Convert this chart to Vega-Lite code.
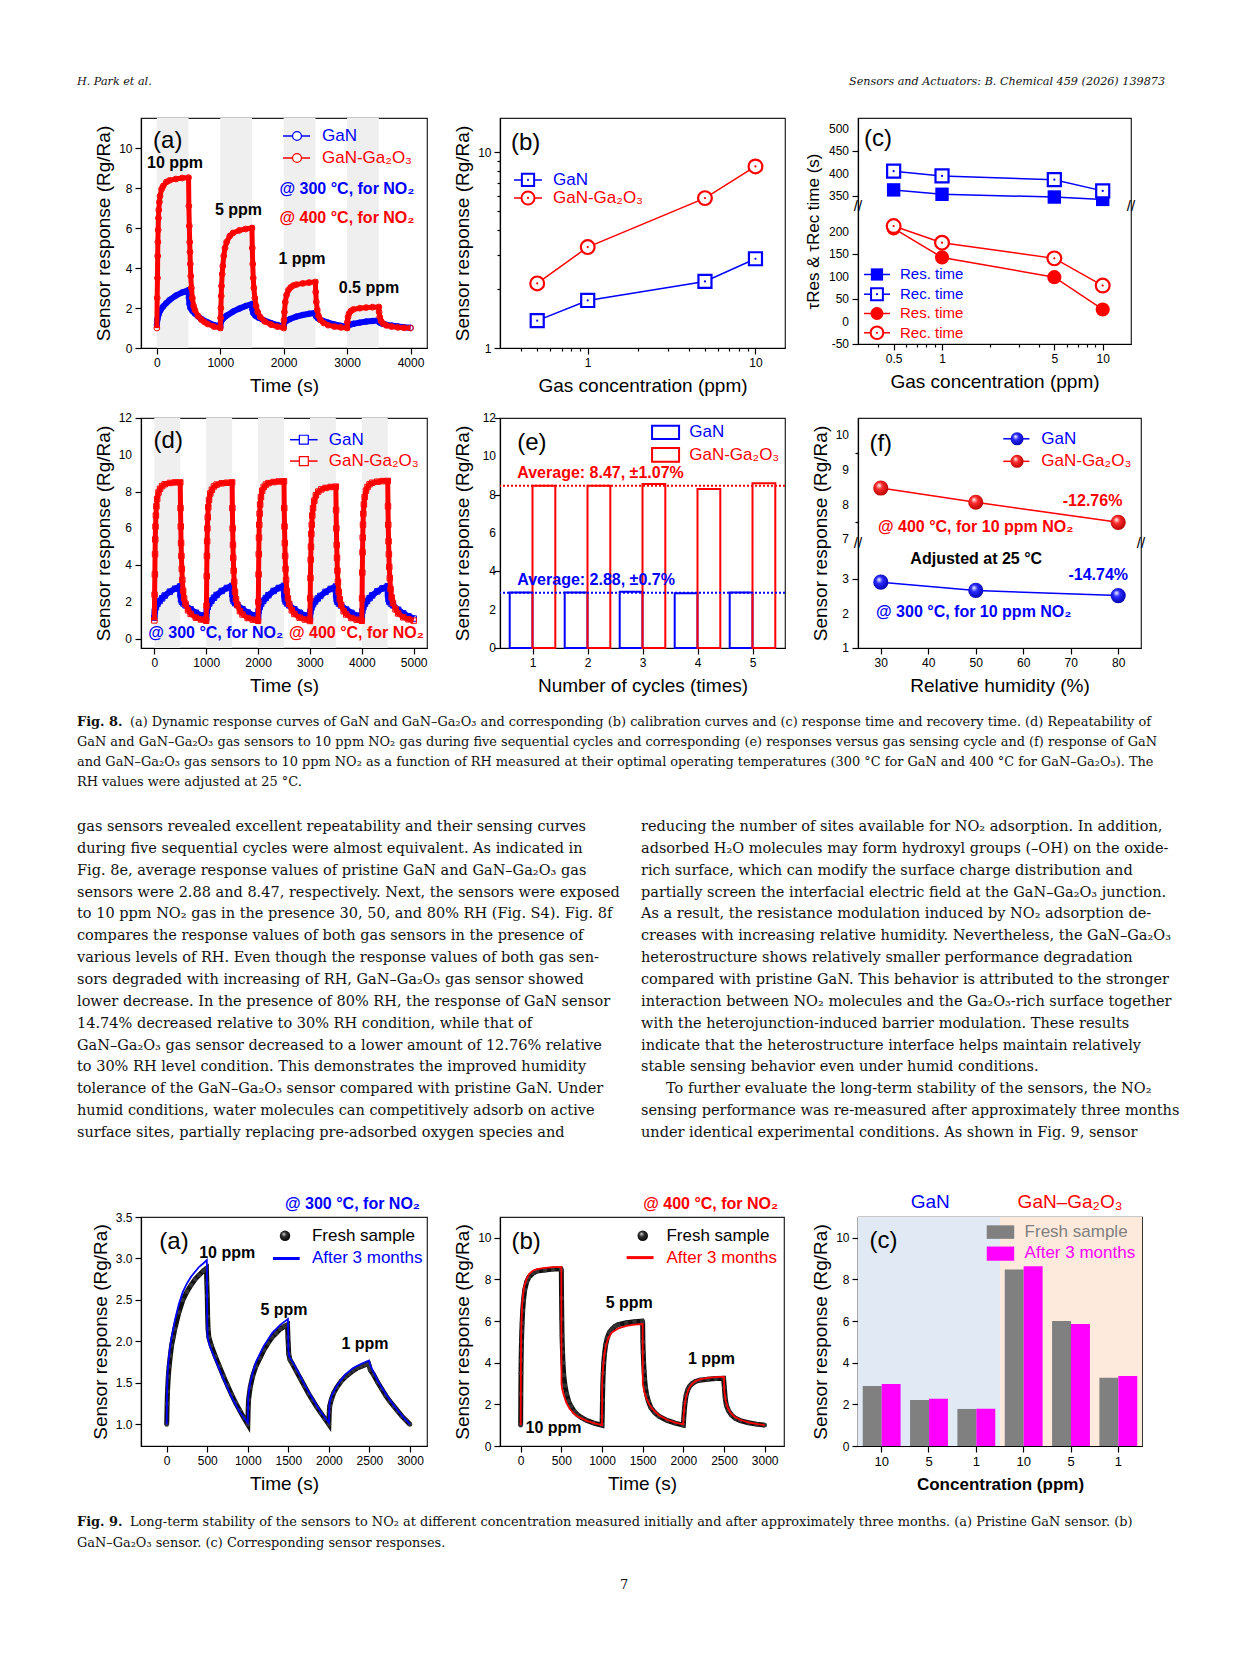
{
"$schema": "https://vega.github.io/schema/vega-lite/v6.json",
"padding": {"left": 77, "top": 37, "right": 0, "bottom": 0},
"config": {
  "font": "Liberation Sans",
  "view": {"stroke": "#222222", "strokeWidth": 1.2},
  "point": {"opacity": 1},
  "axis": {"labelFont": "Liberation Sans", "labelFontSize": 12, "labelColor": "#000000", "labelOverlap": false, "labelBound": false, "titleFont": "Liberation Sans", "titleFontSize": 19, "titleFontWeight": "normal", "titleColor": "#000000", "tickColor": "#000000", "domainColor": "#000000", "tickSize": 6, "grid": false, "labelPadding": 3, "domainWidth": 1.2, "tickWidth": 1.2},
  "axisX": {"titlePadding": 8},
  "axisY": {"titlePadding": 5},
  "text": {"font": "Liberation Sans"}
},
"datasets": {
  "exp8a": [{"on":0,"off":500},{"on":1000,"off":1500},{"on":2000,"off":2500},{"on":3000,"off":3500}],
  "exp8d": [{"on":0,"off":500},{"on":1000,"off":1500},{"on":2000,"off":2500},{"on":3000,"off":3500},{"on":4000,"off":4500}],
  "f8a_gao": [{"time":0,"response":1.0},{"time":5,"response":2.5},{"time":10,"response":3.5},{"time":13,"response":4.6},{"time":16,"response":5.3},{"time":20,"response":5.9},{"time":25,"response":6.5},{"time":30,"response":6.9},{"time":40,"response":7.3},{"time":50,"response":7.6},{"time":75,"response":7.95},{"time":100,"response":8.1},{"time":150,"response":8.3},{"time":200,"response":8.38},{"time":300,"response":8.45},{"time":400,"response":8.5},{"time":500,"response":8.52},{"time":505,"response":7.1},{"time":512,"response":6.1},{"time":518,"response":5.3},{"time":523,"response":4.8},{"time":528,"response":4.2},{"time":535,"response":3.6},{"time":545,"response":3.0},{"time":560,"response":2.5},{"time":580,"response":2.1},{"time":600,"response":1.9},{"time":650,"response":1.6},{"time":700,"response":1.42},{"time":750,"response":1.3},{"time":800,"response":1.2},{"time":900,"response":1.07},{"time":1000,"response":1.0},
    {"time":1005,"response":1.5},{"time":1010,"response":2.0},{"time":1015,"response":2.6},{"time":1020,"response":3.1},{"time":1030,"response":3.7},{"time":1040,"response":4.1},{"time":1055,"response":4.6},{"time":1075,"response":5.0},{"time":1100,"response":5.3},{"time":1150,"response":5.6},{"time":1200,"response":5.75},{"time":1300,"response":5.88},{"time":1400,"response":5.95},{"time":1500,"response":6.0},{"time":1505,"response":5.0},{"time":1512,"response":4.2},{"time":1520,"response":3.5},{"time":1530,"response":3.0},{"time":1545,"response":2.5},{"time":1565,"response":2.1},{"time":1590,"response":1.8},{"time":1630,"response":1.55},{"time":1700,"response":1.33},{"time":1800,"response":1.17},{"time":1900,"response":1.07},{"time":2000,"response":1.0},
    {"time":2005,"response":1.4},{"time":2012,"response":1.8},{"time":2025,"response":2.3},{"time":2045,"response":2.65},{"time":2075,"response":2.9},{"time":2110,"response":3.03},{"time":2150,"response":3.12},{"time":2200,"response":3.17},{"time":2300,"response":3.23},{"time":2400,"response":3.27},{"time":2500,"response":3.3},{"time":2505,"response":2.8},{"time":2515,"response":2.3},{"time":2530,"response":1.9},{"time":2550,"response":1.6},{"time":2580,"response":1.4},{"time":2630,"response":1.25},{"time":2700,"response":1.14},{"time":2800,"response":1.07},{"time":2900,"response":1.03},{"time":3000,"response":1.0},
    {"time":3005,"response":1.3},{"time":3015,"response":1.55},{"time":3030,"response":1.72},{"time":3060,"response":1.85},{"time":3100,"response":1.93},{"time":3200,"response":1.99},{"time":3300,"response":2.02},{"time":3400,"response":2.04},{"time":3500,"response":2.05},{"time":3505,"response":1.8},{"time":3515,"response":1.55},{"time":3535,"response":1.35},{"time":3570,"response":1.22},{"time":3620,"response":1.13},{"time":3700,"response":1.07},{"time":3800,"response":1.03},{"time":3900,"response":1.01},{"time":4000,"response":1.0}],
  "f8a_gan": [{"time":0,"response":1.15},{"time":10,"response":1.45},{"time":25,"response":1.65},{"time":50,"response":1.85},{"time":100,"response":2.08},{"time":150,"response":2.25},{"time":200,"response":2.4},{"time":300,"response":2.62},{"time":400,"response":2.78},{"time":500,"response":2.9},{"time":505,"response":2.5},{"time":515,"response":2.2},{"time":530,"response":2.0},{"time":560,"response":1.85},{"time":600,"response":1.72},{"time":650,"response":1.58},{"time":700,"response":1.46},{"time":800,"response":1.28},{"time":900,"response":1.15},{"time":1000,"response":1.07},
    {"time":1010,"response":1.3},{"time":1030,"response":1.42},{"time":1060,"response":1.52},{"time":1100,"response":1.62},{"time":1200,"response":1.82},{"time":1300,"response":1.97},{"time":1400,"response":2.1},{"time":1500,"response":2.2},{"time":1505,"response":1.95},{"time":1520,"response":1.75},{"time":1550,"response":1.62},{"time":1600,"response":1.52},{"time":1700,"response":1.37},{"time":1800,"response":1.25},{"time":1900,"response":1.15},{"time":2000,"response":1.07},
    {"time":2010,"response":1.25},{"time":2040,"response":1.35},{"time":2100,"response":1.45},{"time":2200,"response":1.57},{"time":2300,"response":1.65},{"time":2400,"response":1.71},{"time":2500,"response":1.76},{"time":2510,"response":1.58},{"time":2540,"response":1.48},{"time":2600,"response":1.38},{"time":2700,"response":1.27},{"time":2800,"response":1.18},{"time":2900,"response":1.11},{"time":3000,"response":1.05},
    {"time":3010,"response":1.12},{"time":3050,"response":1.17},{"time":3100,"response":1.21},{"time":3200,"response":1.27},{"time":3300,"response":1.32},{"time":3400,"response":1.35},{"time":3500,"response":1.38},{"time":3510,"response":1.28},{"time":3550,"response":1.22},{"time":3600,"response":1.18},{"time":3700,"response":1.12},{"time":3800,"response":1.08},{"time":3900,"response":1.04},{"time":4000,"response":1.01}],
  "f8b": [{"sensor":"GaN","conc":0.5,"response":1.38},{"sensor":"GaN","conc":1,"response":1.75},{"sensor":"GaN","conc":5,"response":2.19},{"sensor":"GaN","conc":10,"response":2.86},
    {"sensor":"GaN-Ga2O3","conc":0.5,"response":2.14},{"sensor":"GaN-Ga2O3","conc":1,"response":3.28},{"sensor":"GaN-Ga2O3","conc":5,"response":5.84},{"sensor":"GaN-Ga2O3","conc":10,"response":8.48}],
  "f8c": [{"series":"GaN Res","conc":0.5,"time":363.6},{"series":"GaN Res","conc":1,"time":353.8},{"series":"GaN Res","conc":5,"time":347.7},{"series":"GaN Res","conc":10,"time":342.4},
    {"series":"GaN Rec","conc":0.5,"time":405.3},{"series":"GaN Rec","conc":1,"time":394.7},{"series":"GaN Rec","conc":5,"time":386.4},{"series":"GaN Rec","conc":10,"time":361.4},
    {"series":"GaN-Ga2O3 Res","conc":0.5,"time":207.6},{"series":"GaN-Ga2O3 Res","conc":1,"time":143},{"series":"GaN-Ga2O3 Res","conc":5,"time":99},{"series":"GaN-Ga2O3 Res","conc":10,"time":27},
    {"series":"GaN-Ga2O3 Rec","conc":0.5,"time":212.9},{"series":"GaN-Ga2O3 Rec","conc":1,"time":175.8},{"series":"GaN-Ga2O3 Rec","conc":5,"time":140.9},{"series":"GaN-Ga2O3 Rec","conc":10,"time":80.3}],
  "f8d_gao": [{"time":0,"response":1.0},{"time":5,"response":2.4},{"time":10,"response":3.5},{"time":14,"response":4.6},{"time":18,"response":5.4},{"time":23,"response":6.1},{"time":30,"response":6.7},{"time":40,"response":7.2},{"time":55,"response":7.6},{"time":80,"response":7.95},{"time":110,"response":8.15},{"time":150,"response":8.3},{"time":200,"response":8.4},{"time":300,"response":8.47},{"time":400,"response":8.5},{"time":500,"response":8.5},{"time":505,"response":7.1},{"time":510,"response":6.1},{"time":516,"response":5.2},{"time":522,"response":4.5},{"time":530,"response":3.8},{"time":540,"response":3.2},{"time":555,"response":2.6},{"time":575,"response":2.2},{"time":600,"response":1.9},{"time":650,"response":1.55},{"time":700,"response":1.35},{"time":800,"response":1.15},{"time":900,"response":1.05},{"time":1000,"response":0.98},
    {"time":1005,"response":1.8},{"time":1010,"response":3.4},{"time":1014,"response":4.5},{"time":1018,"response":5.3},{"time":1023,"response":6.0},{"time":1030,"response":6.6},{"time":1040,"response":7.15},{"time":1055,"response":7.55},{"time":1080,"response":7.9},{"time":1110,"response":8.1},{"time":1150,"response":8.28},{"time":1200,"response":8.38},{"time":1300,"response":8.45},{"time":1400,"response":8.48},{"time":1500,"response":8.5},{"time":1505,"response":7.1},{"time":1510,"response":6.0},{"time":1516,"response":5.1},{"time":1522,"response":4.4},{"time":1530,"response":3.7},{"time":1540,"response":3.1},{"time":1555,"response":2.55},{"time":1575,"response":2.15},{"time":1600,"response":1.85},{"time":1650,"response":1.5},{"time":1700,"response":1.32},{"time":1800,"response":1.13},{"time":1900,"response":1.04},{"time":2000,"response":0.98},
    {"time":2005,"response":2.0},{"time":2010,"response":3.5},{"time":2014,"response":4.6},{"time":2018,"response":5.5},{"time":2023,"response":6.2},{"time":2030,"response":6.8},{"time":2040,"response":7.3},{"time":2055,"response":7.7},{"time":2080,"response":8.05},{"time":2110,"response":8.25},{"time":2150,"response":8.38},{"time":2200,"response":8.46},{"time":2300,"response":8.52},{"time":2400,"response":8.55},{"time":2500,"response":8.56},{"time":2505,"response":7.1},{"time":2510,"response":6.1},{"time":2516,"response":5.2},{"time":2522,"response":4.5},{"time":2530,"response":3.8},{"time":2540,"response":3.2},{"time":2555,"response":2.6},{"time":2575,"response":2.2},{"time":2600,"response":1.9},{"time":2650,"response":1.55},{"time":2700,"response":1.35},{"time":2800,"response":1.15},{"time":2900,"response":1.05},{"time":3000,"response":0.97},
    {"time":3005,"response":2.2},{"time":3010,"response":3.3},{"time":3015,"response":4.3},{"time":3020,"response":5.0},{"time":3027,"response":5.7},{"time":3035,"response":6.2},{"time":3045,"response":6.7},{"time":3060,"response":7.1},{"time":3085,"response":7.5},{"time":3115,"response":7.8},{"time":3160,"response":8.0},{"time":3220,"response":8.12},{"time":3300,"response":8.2},{"time":3400,"response":8.25},{"time":3500,"response":8.27},{"time":3505,"response":7.0},{"time":3510,"response":6.0},{"time":3516,"response":5.1},{"time":3522,"response":4.4},{"time":3530,"response":3.7},{"time":3540,"response":3.1},{"time":3555,"response":2.55},{"time":3575,"response":2.15},{"time":3600,"response":1.85},{"time":3650,"response":1.5},{"time":3700,"response":1.32},{"time":3800,"response":1.13},{"time":3900,"response":1.04},{"time":4000,"response":0.98},
    {"time":4005,"response":2.2},{"time":4010,"response":3.6},{"time":4014,"response":4.7},{"time":4018,"response":5.5},{"time":4023,"response":6.2},{"time":4030,"response":6.8},{"time":4040,"response":7.3},{"time":4055,"response":7.7},{"time":4080,"response":8.05},{"time":4110,"response":8.25},{"time":4150,"response":8.4},{"time":4200,"response":8.48},{"time":4300,"response":8.54},{"time":4400,"response":8.57},{"time":4500,"response":8.58},{"time":4505,"response":7.2},{"time":4510,"response":6.2},{"time":4516,"response":5.3},{"time":4522,"response":4.6},{"time":4530,"response":3.9},{"time":4540,"response":3.3},{"time":4555,"response":2.7},{"time":4575,"response":2.25},{"time":4600,"response":1.95},{"time":4650,"response":1.6},{"time":4700,"response":1.38},{"time":4800,"response":1.17},{"time":4900,"response":1.06},{"time":5000,"response":0.99}],
  "f8d_gan": [{"time":0,"response":1.15},{"time":10,"response":1.5},{"time":30,"response":1.72},{"time":60,"response":1.9},{"time":100,"response":2.05},{"time":150,"response":2.2},{"time":200,"response":2.35},{"time":300,"response":2.56},{"time":400,"response":2.72},{"time":500,"response":2.85},{"time":505,"response":2.4},{"time":515,"response":2.15},{"time":530,"response":2.02},{"time":560,"response":1.92},{"time":600,"response":1.82},{"time":700,"response":1.6},{"time":800,"response":1.42},{"time":900,"response":1.27},{"time":1000,"response":1.15},
    {"time":1010,"response":1.5},{"time":1030,"response":1.73},{"time":1060,"response":1.92},{"time":1100,"response":2.07},{"time":1150,"response":2.23},{"time":1200,"response":2.38},{"time":1300,"response":2.6},{"time":1400,"response":2.76},{"time":1500,"response":2.88},{"time":1505,"response":2.42},{"time":1515,"response":2.17},{"time":1530,"response":2.04},{"time":1560,"response":1.93},{"time":1600,"response":1.83},{"time":1700,"response":1.61},{"time":1800,"response":1.43},{"time":1900,"response":1.28},{"time":2000,"response":1.16},
    {"time":2010,"response":1.5},{"time":2030,"response":1.72},{"time":2060,"response":1.9},{"time":2100,"response":2.06},{"time":2150,"response":2.22},{"time":2200,"response":2.37},{"time":2300,"response":2.6},{"time":2400,"response":2.76},{"time":2500,"response":2.88},{"time":2505,"response":2.42},{"time":2515,"response":2.16},{"time":2530,"response":2.03},{"time":2560,"response":1.92},{"time":2600,"response":1.82},{"time":2700,"response":1.6},{"time":2800,"response":1.42},{"time":2900,"response":1.27},{"time":3000,"response":1.15},
    {"time":3010,"response":1.48},{"time":3030,"response":1.7},{"time":3060,"response":1.88},{"time":3100,"response":2.03},{"time":3150,"response":2.19},{"time":3200,"response":2.33},{"time":3300,"response":2.55},{"time":3400,"response":2.71},{"time":3500,"response":2.84},{"time":3505,"response":2.4},{"time":3515,"response":2.14},{"time":3530,"response":2.01},{"time":3560,"response":1.91},{"time":3600,"response":1.81},{"time":3700,"response":1.59},{"time":3800,"response":1.41},{"time":3900,"response":1.26},{"time":4000,"response":1.14},
    {"time":4010,"response":1.5},{"time":4030,"response":1.72},{"time":4060,"response":1.9},{"time":4100,"response":2.05},{"time":4150,"response":2.21},{"time":4200,"response":2.36},{"time":4300,"response":2.58},{"time":4400,"response":2.74},{"time":4500,"response":2.86},{"time":4505,"response":2.41},{"time":4515,"response":2.15},{"time":4530,"response":2.02},{"time":4560,"response":1.92},{"time":4600,"response":1.82},{"time":4700,"response":1.58},{"time":4800,"response":1.38},{"time":4900,"response":1.22},{"time":5000,"response":1.1}],
  "f8e": [{"cycle":1,"sensor":"GaN","response":2.9},{"cycle":2,"sensor":"GaN","response":2.9},{"cycle":3,"sensor":"GaN","response":2.93},{"cycle":4,"sensor":"GaN","response":2.86},{"cycle":5,"sensor":"GaN","response":2.9},
    {"cycle":1,"sensor":"GaN-Ga2O3","response":8.47},{"cycle":2,"sensor":"GaN-Ga2O3","response":8.47},{"cycle":3,"sensor":"GaN-Ga2O3","response":8.56},{"cycle":4,"sensor":"GaN-Ga2O3","response":8.3},{"cycle":5,"sensor":"GaN-Ga2O3","response":8.59}],
  "f8f": [{"sensor":"GaN","rh":30,"response":2.92},{"sensor":"GaN","rh":50,"response":2.68},{"sensor":"GaN","rh":80,"response":2.53},
    {"sensor":"GaN-Ga2O3","rh":30,"response":8.48},{"sensor":"GaN-Ga2O3","rh":50,"response":8.07},{"sensor":"GaN-Ga2O3","rh":80,"response":7.49}],
  "f9a_fresh": [{"time":0,"response":1.0},{"time":5,"response":1.25},{"time":10,"response":1.4},{"time":20,"response":1.58},{"time":30,"response":1.7},{"time":45,"response":1.83},{"time":60,"response":1.95},{"time":80,"response":2.05},{"time":100,"response":2.15},{"time":150,"response":2.35},{"time":200,"response":2.5},{"time":250,"response":2.6},{"time":300,"response":2.68},{"time":350,"response":2.75},{"time":400,"response":2.8},{"time":450,"response":2.85},{"time":490,"response":2.88},{"time":495,"response":2.7},{"time":500,"response":2.55},{"time":505,"response":2.3},{"time":510,"response":2.15},{"time":520,"response":2.05},{"time":550,"response":1.95},{"time":600,"response":1.82},{"time":650,"response":1.7},{"time":700,"response":1.58},{"time":750,"response":1.47},{"time":800,"response":1.36},{"time":850,"response":1.26},{"time":900,"response":1.17},{"time":950,"response":1.08},{"time":1000,"response":1.0},
    {"time":1005,"response":1.2},{"time":1010,"response":1.3},{"time":1030,"response":1.45},{"time":1060,"response":1.58},{"time":1100,"response":1.7},{"time":1150,"response":1.8},{"time":1200,"response":1.9},{"time":1250,"response":1.98},{"time":1300,"response":2.05},{"time":1350,"response":2.1},{"time":1400,"response":2.15},{"time":1450,"response":2.18},{"time":1490,"response":2.2},{"time":1495,"response":2.05},{"time":1500,"response":1.95},{"time":1505,"response":1.85},{"time":1520,"response":1.78},{"time":1550,"response":1.73},{"time":1600,"response":1.64},{"time":1650,"response":1.55},{"time":1700,"response":1.46},{"time":1750,"response":1.37},{"time":1800,"response":1.29},{"time":1850,"response":1.21},{"time":1900,"response":1.14},{"time":1950,"response":1.07},{"time":2000,"response":1.0},
    {"time":2005,"response":1.15},{"time":2010,"response":1.22},{"time":2030,"response":1.3},{"time":2060,"response":1.38},{"time":2100,"response":1.45},{"time":2150,"response":1.52},{"time":2200,"response":1.57},{"time":2250,"response":1.61},{"time":2300,"response":1.65},{"time":2350,"response":1.68},{"time":2400,"response":1.7},{"time":2450,"response":1.72},{"time":2490,"response":1.73},{"time":2500,"response":1.7},{"time":2510,"response":1.66},{"time":2550,"response":1.6},{"time":2600,"response":1.51},{"time":2650,"response":1.43},{"time":2700,"response":1.35},{"time":2750,"response":1.28},{"time":2800,"response":1.22},{"time":2850,"response":1.16},{"time":2900,"response":1.1},{"time":2950,"response":1.05},{"time":3000,"response":1.0}],
  "f9a_after": [{"time":0,"response":1.0},{"time":5,"response":1.45},{"time":10,"response":1.6},{"time":20,"response":1.75},{"time":40,"response":1.92},{"time":60,"response":2.05},{"time":100,"response":2.25},{"time":150,"response":2.45},{"time":200,"response":2.6},{"time":250,"response":2.7},{"time":300,"response":2.78},{"time":350,"response":2.84},{"time":400,"response":2.9},{"time":450,"response":2.94},{"time":495,"response":2.98},{"time":500,"response":2.2},{"time":505,"response":2.05},{"time":520,"response":1.98},{"time":550,"response":1.9},{"time":600,"response":1.78},{"time":700,"response":1.55},{"time":800,"response":1.33},{"time":900,"response":1.15},{"time":1000,"response":1.02},
    {"time":1005,"response":1.3},{"time":1010,"response":1.38},{"time":1030,"response":1.5},{"time":1060,"response":1.62},{"time":1100,"response":1.75},{"time":1200,"response":1.95},{"time":1300,"response":2.1},{"time":1400,"response":2.2},{"time":1495,"response":2.27},{"time":1500,"response":1.9},{"time":1510,"response":1.82},{"time":1550,"response":1.76},{"time":1600,"response":1.67},{"time":1700,"response":1.48},{"time":1800,"response":1.31},{"time":1900,"response":1.15},{"time":2000,"response":1.02},
    {"time":2005,"response":1.2},{"time":2010,"response":1.27},{"time":2030,"response":1.34},{"time":2100,"response":1.47},{"time":2200,"response":1.6},{"time":2300,"response":1.68},{"time":2400,"response":1.73},{"time":2495,"response":1.77},{"time":2505,"response":1.72},{"time":2550,"response":1.63},{"time":2600,"response":1.53},{"time":2700,"response":1.37},{"time":2800,"response":1.23},{"time":2900,"response":1.11},{"time":3000,"response":1.0}],
  "f9b_fresh": [{"time":0,"response":1.0},{"time":2,"response":2.5},{"time":4,"response":3.5},{"time":6,"response":4.1},{"time":8,"response":4.6},{"time":10,"response":5.0},{"time":14,"response":5.5},{"time":18,"response":5.9},{"time":25,"response":6.5},{"time":35,"response":7.0},{"time":50,"response":7.5},{"time":75,"response":7.9},{"time":100,"response":8.1},{"time":150,"response":8.3},{"time":200,"response":8.4},{"time":300,"response":8.45},{"time":400,"response":8.5},{"time":495,"response":8.5},{"time":500,"response":8.45},{"time":503,"response":7.1},{"time":506,"response":6.1},{"time":509,"response":5.3},{"time":512,"response":4.85},{"time":515,"response":4.5},{"time":520,"response":4.0},{"time":530,"response":3.4},{"time":545,"response":2.9},{"time":565,"response":2.5},{"time":590,"response":2.15},{"time":620,"response":1.9},{"time":660,"response":1.65},{"time":700,"response":1.5},{"time":750,"response":1.36},{"time":800,"response":1.25},{"time":900,"response":1.1},{"time":1000,"response":1.0},
    {"time":1003,"response":1.4},{"time":1006,"response":2.2},{"time":1010,"response":2.9},{"time":1015,"response":3.5},{"time":1022,"response":4.0},{"time":1030,"response":4.4},{"time":1045,"response":4.85},{"time":1065,"response":5.2},{"time":1090,"response":5.45},{"time":1120,"response":5.6},{"time":1160,"response":5.75},{"time":1200,"response":5.83},{"time":1300,"response":5.92},{"time":1400,"response":5.97},{"time":1495,"response":6.0},{"time":1500,"response":5.95},{"time":1503,"response":5.0},{"time":1507,"response":4.5},{"time":1512,"response":4.0},{"time":1518,"response":3.6},{"time":1525,"response":3.2},{"time":1535,"response":2.8},{"time":1550,"response":2.45},{"time":1570,"response":2.15},{"time":1600,"response":1.85},{"time":1650,"response":1.6},{"time":1700,"response":1.43},{"time":1800,"response":1.23},{"time":1900,"response":1.1},{"time":2000,"response":1.0},
    {"time":2005,"response":1.3},{"time":2012,"response":1.7},{"time":2022,"response":2.1},{"time":2035,"response":2.45},{"time":2055,"response":2.7},{"time":2080,"response":2.88},{"time":2110,"response":3.0},{"time":2150,"response":3.1},{"time":2200,"response":3.16},{"time":2300,"response":3.21},{"time":2400,"response":3.24},{"time":2495,"response":3.25},{"time":2505,"response":2.8},{"time":2515,"response":2.3},{"time":2530,"response":1.95},{"time":2555,"response":1.7},{"time":2590,"response":1.5},{"time":2640,"response":1.33},{"time":2700,"response":1.22},{"time":2800,"response":1.12},{"time":2900,"response":1.05},{"time":3000,"response":1.0}],
  "f9b_after": [{"time":0,"response":1.0},{"time":3,"response":4.0},{"time":6,"response":5.2},{"time":10,"response":6.0},{"time":20,"response":6.9},{"time":40,"response":7.6},{"time":70,"response":8.0},{"time":100,"response":8.25},{"time":150,"response":8.42},{"time":200,"response":8.5},{"time":300,"response":8.56},{"time":400,"response":8.59},{"time":500,"response":8.6},{"time":502,"response":3.0},{"time":510,"response":2.75},{"time":530,"response":2.45},{"time":560,"response":2.1},{"time":600,"response":1.8},{"time":650,"response":1.57},{"time":700,"response":1.42},{"time":800,"response":1.23},{"time":900,"response":1.1},{"time":1000,"response":1.0},
    {"time":1002,"response":3.0},{"time":1010,"response":3.6},{"time":1025,"response":4.3},{"time":1050,"response":4.85},{"time":1080,"response":5.2},{"time":1120,"response":5.45},{"time":1200,"response":5.65},{"time":1300,"response":5.77},{"time":1400,"response":5.83},{"time":1500,"response":5.86},{"time":1502,"response":3.0},{"time":1520,"response":2.6},{"time":1550,"response":2.25},{"time":1580,"response":2.0},{"time":1620,"response":1.78},{"time":1700,"response":1.48},{"time":1800,"response":1.26},{"time":1900,"response":1.12},{"time":2000,"response":1.04},
    {"time":2003,"response":1.4},{"time":2015,"response":1.9},{"time":2030,"response":2.3},{"time":2060,"response":2.7},{"time":2100,"response":2.95},{"time":2150,"response":3.12},{"time":2200,"response":3.2},{"time":2300,"response":3.27},{"time":2400,"response":3.31},{"time":2500,"response":3.33},{"time":2503,"response":2.7},{"time":2520,"response":2.2},{"time":2545,"response":1.85},{"time":2580,"response":1.6},{"time":2630,"response":1.4},{"time":2700,"response":1.26},{"time":2800,"response":1.14},{"time":2900,"response":1.06},{"time":3000,"response":1.0}],
  "f9c": [{"group":"GaN 10","period":"Fresh sample","response":2.88},{"group":"GaN 10","period":"After 3 months","response":2.98},
    {"group":"GaN 5","period":"Fresh sample","response":2.21},{"group":"GaN 5","period":"After 3 months","response":2.27},
    {"group":"GaN 1","period":"Fresh sample","response":1.78},{"group":"GaN 1","period":"After 3 months","response":1.79},
    {"group":"GaN–Ga₂O₃ 10","period":"Fresh sample","response":8.48},{"group":"GaN–Ga₂O₃ 10","period":"After 3 months","response":8.64},
    {"group":"GaN–Ga₂O₃ 5","period":"Fresh sample","response":6.0},{"group":"GaN–Ga₂O₃ 5","period":"After 3 months","response":5.86},
    {"group":"GaN–Ga₂O₃ 1","period":"Fresh sample","response":3.28},{"group":"GaN–Ga₂O₃ 1","period":"After 3 months","response":3.36}],
  "header": [{"col":"left","line":1,"text":"H. Park et al."},{"col":"right","line":1,"text":"Sensors and Actuators: B. Chemical 459 (2026) 139873"}],
  "textrow": [{"block":"cap","col":"left","line":1,"part":"label","text":"Fig. 8."},
    {"block":"cap","col":"left","line":1,"part":"body","text":"(a) Dynamic response curves of GaN and GaN–Ga₂O₃ and corresponding (b) calibration curves and (c) response time and recovery time. (d) Repeatability of"},
    {"block":"cap","col":"left","line":2,"part":"body","text":"GaN and GaN–Ga₂O₃ gas sensors to 10 ppm NO₂ gas during five sequential cycles and corresponding (e) responses versus gas sensing cycle and (f) response of GaN"},
    {"block":"cap","col":"left","line":3,"part":"body","text":"and GaN–Ga₂O₃ gas sensors to 10 ppm NO₂ as a function of RH measured at their optimal operating temperatures (300 °C for GaN and 400 °C for GaN–Ga₂O₃). The"},
    {"block":"cap","col":"left","line":4,"part":"body","text":"RH values were adjusted at 25 °C."},
    {"block":"body","col":"left","line":1,"part":"body","text":"gas sensors revealed excellent repeatability and their sensing curves"},
    {"block":"body","col":"left","line":2,"part":"body","text":"during five sequential cycles were almost equivalent. As indicated in"},
    {"block":"body","col":"left","line":3,"part":"body","text":"Fig. 8e, average response values of pristine GaN and GaN–Ga₂O₃ gas"},
    {"block":"body","col":"left","line":4,"part":"body","text":"sensors were 2.88 and 8.47, respectively. Next, the sensors were exposed"},
    {"block":"body","col":"left","line":5,"part":"body","text":"to 10 ppm NO₂ gas in the presence 30, 50, and 80% RH (Fig. S4). Fig. 8f"},
    {"block":"body","col":"left","line":6,"part":"body","text":"compares the response values of both gas sensors in the presence of"},
    {"block":"body","col":"left","line":7,"part":"body","text":"various levels of RH. Even though the response values of both gas sen-"},
    {"block":"body","col":"left","line":8,"part":"body","text":"sors degraded with increasing of RH, GaN–Ga₂O₃ gas sensor showed"},
    {"block":"body","col":"left","line":9,"part":"body","text":"lower decrease. In the presence of 80% RH, the response of GaN sensor"},
    {"block":"body","col":"left","line":10,"part":"body","text":"14.74% decreased relative to 30% RH condition, while that of"},
    {"block":"body","col":"left","line":11,"part":"body","text":"GaN–Ga₂O₃ gas sensor decreased to a lower amount of 12.76% relative"},
    {"block":"body","col":"left","line":12,"part":"body","text":"to 30% RH level condition. This demonstrates the improved humidity"},
    {"block":"body","col":"left","line":13,"part":"body","text":"tolerance of the GaN–Ga₂O₃ sensor compared with pristine GaN. Under"},
    {"block":"body","col":"left","line":14,"part":"body","text":"humid conditions, water molecules can competitively adsorb on active"},
    {"block":"body","col":"left","line":15,"part":"body","text":"surface sites, partially replacing pre-adsorbed oxygen species and"},
    {"block":"body","col":"right","line":1,"part":"body","text":"reducing the number of sites available for NO₂ adsorption. In addition,"},
    {"block":"body","col":"right","line":2,"part":"body","text":"adsorbed H₂O molecules may form hydroxyl groups (–OH) on the oxide-"},
    {"block":"body","col":"right","line":3,"part":"body","text":"rich surface, which can modify the surface charge distribution and"},
    {"block":"body","col":"right","line":4,"part":"body","text":"partially screen the interfacial electric field at the GaN–Ga₂O₃ junction."},
    {"block":"body","col":"right","line":5,"part":"body","text":"As a result, the resistance modulation induced by NO₂ adsorption de-"},
    {"block":"body","col":"right","line":6,"part":"body","text":"creases with increasing relative humidity. Nevertheless, the GaN–Ga₂O₃"},
    {"block":"body","col":"right","line":7,"part":"body","text":"heterostructure shows relatively smaller performance degradation"},
    {"block":"body","col":"right","line":8,"part":"body","text":"compared with pristine GaN. This behavior is attributed to the stronger"},
    {"block":"body","col":"right","line":9,"part":"body","text":"interaction between NO₂ molecules and the Ga₂O₃-rich surface together"},
    {"block":"body","col":"right","line":10,"part":"body","text":"with the heterojunction-induced barrier modulation. These results"},
    {"block":"body","col":"right","line":11,"part":"body","text":"indicate that the heterostructure interface helps maintain relatively"},
    {"block":"body","col":"right","line":12,"part":"body","text":"stable sensing behavior even under humid conditions."},
    {"block":"body","col":"right","line":13,"part":"indent","text":"To further evaluate the long-term stability of the sensors, the NO₂"},
    {"block":"body","col":"right","line":14,"part":"body","text":"sensing performance was re-measured after approximately three months"},
    {"block":"body","col":"right","line":15,"part":"body","text":"under identical experimental conditions. As shown in Fig. 9, sensor"}],
  "cap9": [{"col":"left","line":1,"part":"label","text":"Fig. 9."},
    {"col":"left","line":1,"part":"body","text":"Long-term stability of the sensors to NO₂ at different concentration measured initially and after approximately three months. (a) Pristine GaN sensor. (b)"},
    {"col":"left","line":2,"part":"body","text":"GaN–Ga₂O₃ sensor. (c) Corresponding sensor responses."},
    {"col":"center","line":4,"part":"page","text":"7"}]
},
"concat": [
  {
    "width": 10, "height": 10, "view": {"stroke": null},
    "data": {"name": "header"},
    "encoding": {
      "x": {"field": "col", "type": "nominal", "scale": {"type": "point", "domain": ["left", "right"], "range": [-64, 1024], "padding": 0}, "axis": null},
      "y": {"field": "line", "type": "quantitative", "scale": {"domain": [1, 2], "range": [44, 64], "nice": false, "zero": false}, "axis": null},
      "text": {"field": "text"}
    },
    "layer": [
      {"transform": [{"filter": "datum.col == 'left'"}], "mark": {"type": "text", "align": "left", "baseline": "middle", "font": "DejaVu Serif", "fontStyle": "italic", "fontSize": 11.2, "color": "#111111"}},
      {"transform": [{"filter": "datum.col == 'right'"}], "mark": {"type": "text", "align": "right", "baseline": "middle", "font": "DejaVu Serif", "fontStyle": "italic", "fontSize": 11.2, "color": "#111111"}}
    ]
  },
  {"width": 10, "height": 10, "view": {"stroke": null}, "data": {"values": [{}]}, "mark": {"type": "text", "text": " "}},
  {"width": 10, "height": 10, "view": {"stroke": null}, "data": {"values": [{}]}, "mark": {"type": "text", "text": " "}},
  {
    "width": 286, "height": 230, "data": {"values": [{}]},
    "layer": [
      {"data": {"name": "exp8a"}, "mark": {"type": "rect", "color": "#efefef"},
       "encoding": {"x": {"field": "on", "type": "quantitative", "scale": {"domain": [-250, 4260], "nice": false, "zero": false}, "axis": {"values": [0, 500, 1000, 1500, 2000, 2500, 3000, 3500, 4000], "format": "d", "labelOverlap": false, "labelExpr": "datum.value % 1000 == 0 ? datum.label : ''", "tickDash": {"condition": {"test": "datum.value % 1000 != 0", "value": [3, 30]}, "value": []}, "title": "Time (s)"}}, "x2": {"field": "off"}}},
      {"data": {"name": "f8a_gan"}, "mark": {"type": "line", "color": "#0000ff", "strokeWidth": 6},
       "encoding": {"x": {"field": "time", "type": "quantitative"}, "y": {"field": "response", "type": "quantitative", "scale": {"domain": [0, 11.5], "nice": false, "zero": false}, "axis": {"values": [0, 1, 2, 3, 4, 5, 6, 7, 8, 9, 10, 11], "labelOverlap": false, "labelExpr": "datum.value % 2 == 0 ? datum.label : ''", "tickDash": {"condition": {"test": "datum.value % 2 != 0", "value": [3, 30]}, "value": []}, "title": "Sensor response (Rg/Ra)"}}}},
      {"data": {"name": "f8a_gan"}, "mark": {"type": "point", "shape": "circle", "filled": false, "color": "#0000ff", "size": 30, "strokeWidth": 1},
       "encoding": {"x": {"field": "time", "type": "quantitative"}, "y": {"field": "response", "type": "quantitative"}}},
      {"data": {"name": "f8a_gao"}, "mark": {"type": "line", "color": "#ff0000", "strokeWidth": 5},
       "encoding": {"x": {"field": "time", "type": "quantitative"}, "y": {"field": "response", "type": "quantitative"}}},
      {"data": {"name": "f8a_gao"}, "mark": {"type": "point", "shape": "circle", "filled": false, "color": "#ff0000", "size": 34, "strokeWidth": 1},
       "encoding": {"x": {"field": "time", "type": "quantitative"}, "y": {"field": "response", "type": "quantitative"}}},
      {"mark": {"type": "text", "text": "(a)", "fontSize": 24, "align": "left", "baseline": "middle"}, "encoding": {"x": {"datum": -60}, "y": {"datum": 10.35}}},
      {"mark": {"type": "text", "text": "10 ppm", "fontSize": 16, "fontWeight": "bold", "align": "center", "baseline": "middle"}, "encoding": {"x": {"datum": 286}, "y": {"datum": 9.25}}},
      {"mark": {"type": "text", "text": "5 ppm", "fontSize": 16, "fontWeight": "bold", "align": "center", "baseline": "middle"}, "encoding": {"x": {"datum": 1288}, "y": {"datum": 6.9}}},
      {"mark": {"type": "text", "text": "1 ppm", "fontSize": 16, "fontWeight": "bold", "align": "center", "baseline": "middle"}, "encoding": {"x": {"datum": 2289}, "y": {"datum": 4.45}}},
      {"mark": {"type": "text", "text": "0.5 ppm", "fontSize": 16, "fontWeight": "bold", "align": "center", "baseline": "middle"}, "encoding": {"x": {"datum": 3345}, "y": {"datum": 3.0}}},
      {"mark": {"type": "rule", "color": "#0000ff", "strokeWidth": 1.5}, "encoding": {"x": {"datum": 1989}, "x2": {"datum": 2416}, "y": {"datum": 10.6}}},
      {"mark": {"type": "point", "shape": "circle", "filled": true, "fill": "#ffffff", "stroke": "#0000ff", "size": 80, "strokeWidth": 1.2}, "encoding": {"x": {"datum": 2210}, "y": {"datum": 10.6}}},
      {"mark": {"type": "text", "text": "GaN", "fontSize": 17, "color": "#0000ff", "align": "left", "baseline": "middle"}, "encoding": {"x": {"datum": 2604}, "y": {"datum": 10.6}}},
      {"mark": {"type": "rule", "color": "#ff0000", "strokeWidth": 1.5}, "encoding": {"x": {"datum": 1989}, "x2": {"datum": 2416}, "y": {"datum": 9.5}}},
      {"mark": {"type": "point", "shape": "circle", "filled": true, "fill": "#ffffff", "stroke": "#ff0000", "size": 80, "strokeWidth": 1.2}, "encoding": {"x": {"datum": 2210}, "y": {"datum": 9.5}}},
      {"mark": {"type": "text", "text": "GaN-Ga₂O₃", "fontSize": 17, "color": "#ff0000", "align": "left", "baseline": "middle"}, "encoding": {"x": {"datum": 2604}, "y": {"datum": 9.5}}},
      {"mark": {"type": "text", "text": "@ 300 °C, for NO₂", "fontSize": 16, "fontWeight": "bold", "color": "#0000ff", "align": "left", "baseline": "middle"}, "encoding": {"x": {"datum": 1934}, "y": {"datum": 7.95}}},
      {"mark": {"type": "text", "text": "@ 400 °C, for NO₂", "fontSize": 16, "fontWeight": "bold", "color": "#ff0000", "align": "left", "baseline": "middle"}, "encoding": {"x": {"datum": 1934}, "y": {"datum": 6.5}}}
    ]
  },
  {
    "width": 285, "height": 230, "data": {"values": [{}]},
    "layer": [
      {"data": {"name": "f8b"}, "transform": [{"filter": "datum.sensor == 'GaN'"}], "mark": {"type": "line", "color": "#0000ff", "strokeWidth": 1.5},
       "encoding": {"x": {"field": "conc", "type": "quantitative", "scale": {"type": "log", "domain": [0.3, 15], "nice": false}, "axis": {"values": [0.4, 0.5, 0.6, 0.7, 0.8, 0.9, 1, 2, 3, 4, 5, 6, 7, 8, 9, 10], "format": "~g", "labelOverlap": false, "labelExpr": "datum.value == 1 || datum.value == 10 ? datum.label : ''", "tickDash": {"condition": {"test": "datum.value != 1 && datum.value != 10", "value": [3, 30]}, "value": []}, "title": "Gas concentration (ppm)"}},
                    "y": {"field": "response", "type": "quantitative", "scale": {"type": "log", "domain": [1, 15], "nice": false}, "axis": {"values": [1, 2, 3, 4, 5, 6, 7, 8, 9, 10], "format": "~g", "labelOverlap": false, "labelExpr": "datum.value == 1 || datum.value == 10 ? datum.label : ''", "tickDash": {"condition": {"test": "datum.value != 1 && datum.value != 10", "value": [3, 30]}, "value": []}, "title": "Sensor response (Rg/Ra)"}}}},
      {"data": {"name": "f8b"}, "transform": [{"filter": "datum.sensor == 'GaN-Ga2O3'"}], "mark": {"type": "line", "color": "#ff0000", "strokeWidth": 1.5},
       "encoding": {"x": {"field": "conc", "type": "quantitative"}, "y": {"field": "response", "type": "quantitative"}}},
      {"data": {"name": "f8b"}, "transform": [{"filter": "datum.sensor == 'GaN'"}], "mark": {"type": "point", "shape": "square", "filled": true, "fill": "#ffffff", "stroke": "#0000ff", "size": 170, "strokeWidth": 2.2},
       "encoding": {"x": {"field": "conc", "type": "quantitative"}, "y": {"field": "response", "type": "quantitative"}}},
      {"data": {"name": "f8b"}, "transform": [{"filter": "datum.sensor == 'GaN-Ga2O3'"}], "mark": {"type": "point", "shape": "circle", "filled": true, "fill": "#ffffff", "stroke": "#ff0000", "size": 190, "strokeWidth": 2.2},
       "encoding": {"x": {"field": "conc", "type": "quantitative"}, "y": {"field": "response", "type": "quantitative"}}},
      {"data": {"name": "f8b"}, "transform": [{"filter": "datum.sensor == 'GaN'"}], "mark": {"type": "point", "shape": "circle", "filled": true, "color": "#0000ff", "size": 5},
       "encoding": {"x": {"field": "conc", "type": "quantitative"}, "y": {"field": "response", "type": "quantitative"}}},
      {"data": {"name": "f8b"}, "transform": [{"filter": "datum.sensor == 'GaN-Ga2O3'"}], "mark": {"type": "point", "shape": "circle", "filled": true, "color": "#ff0000", "size": 5},
       "encoding": {"x": {"field": "conc", "type": "quantitative"}, "y": {"field": "response", "type": "quantitative"}}},
      {"mark": {"type": "text", "text": "(b)", "fontSize": 24, "align": "left", "baseline": "middle"}, "encoding": {"x": {"datum": 0.349}, "y": {"datum": 11.2}}},
      {"mark": {"type": "rule", "color": "#0000ff", "strokeWidth": 1.5}, "encoding": {"x": {"datum": 0.3636}, "x2": {"datum": 0.534}, "y": {"datum": 7.23}}},
      {"mark": {"type": "point", "shape": "square", "filled": true, "fill": "#ffffff", "stroke": "#0000ff", "size": 150, "strokeWidth": 2}, "encoding": {"x": {"datum": 0.4406}, "y": {"datum": 7.23}}},
      {"mark": {"type": "point", "shape": "circle", "filled": true, "color": "#0000ff", "size": 5}, "encoding": {"x": {"datum": 0.4406}, "y": {"datum": 7.23}}},
      {"mark": {"type": "text", "text": "GaN", "fontSize": 17, "color": "#0000ff", "align": "left", "baseline": "middle"}, "encoding": {"x": {"datum": 0.621}, "y": {"datum": 7.23}}},
      {"mark": {"type": "rule", "color": "#ff0000", "strokeWidth": 1.5}, "encoding": {"x": {"datum": 0.3636}, "x2": {"datum": 0.534}, "y": {"datum": 5.85}}},
      {"mark": {"type": "point", "shape": "circle", "filled": true, "fill": "#ffffff", "stroke": "#ff0000", "size": 170, "strokeWidth": 2}, "encoding": {"x": {"datum": 0.4406}, "y": {"datum": 5.85}}},
      {"mark": {"type": "point", "shape": "circle", "filled": true, "color": "#ff0000", "size": 5}, "encoding": {"x": {"datum": 0.4406}, "y": {"datum": 5.85}}},
      {"mark": {"type": "text", "text": "GaN-Ga₂O₃", "fontSize": 17, "color": "#ff0000", "align": "left", "baseline": "middle"}, "encoding": {"x": {"datum": 0.621}, "y": {"datum": 5.85}}}
    ]
  },
  {
    "width": 273, "height": 226, "data": {"values": [{}]},
    "layer": [
      {"data": {"name": "f8c"}, "transform": [{"filter": "indexof(datum.series, 'GaN-Ga2O3') < 0"}], "mark": {"type": "line", "strokeWidth": 1.5, "color": "#0000ff"},
       "encoding": {"x": {"field": "conc", "type": "quantitative", "scale": {"type": "log", "domain": [0.3, 15], "nice": false}, "axis": {"values": [0.4, 0.5, 0.6, 0.7, 0.8, 0.9, 1, 2, 3, 4, 5, 6, 7, 8, 9, 10], "format": "~g", "labelOverlap": false, "labelExpr": "datum.value == 0.5 || datum.value == 1 || datum.value == 5 || datum.value == 10 ? datum.label : ''", "tickDash": {"condition": {"test": "datum.value != 0.5 && datum.value != 1 && datum.value != 5 && datum.value != 10", "value": [3, 30]}, "value": []}, "title": "Gas concentration (ppm)"}},
                    "y": {"field": "time", "type": "quantitative", "scale": {"domain": [-50, 257, 327, 524], "range": [226, 88.3, 88.3, 0], "nice": false, "zero": false}, "axis": {"values": [-50, -25, 0, 25, 50, 75, 100, 125, 150, 175, 200, 225, 350, 375, 400, 425, 450, 475, 500], "labels": false, "tickDash": {"condition": {"test": "datum.value % 50 != 0", "value": [3, 30]}, "value": []}, "title": "τRes & τRec time (s)", "titleFontSize": 17, "titlePadding": 29}},
                    "detail": {"field": "series", "type": "nominal"}}},
      {"data": {"name": "f8c"}, "transform": [{"filter": "indexof(datum.series, 'GaN-Ga2O3') >= 0"}], "mark": {"type": "line", "strokeWidth": 1.5, "color": "#ff0000"},
       "encoding": {"x": {"field": "conc", "type": "quantitative"}, "y": {"field": "time", "type": "quantitative"}, "detail": {"field": "series", "type": "nominal"}}},
      {"data": {"name": "f8c"}, "transform": [{"filter": "datum.series == 'GaN Res'"}], "mark": {"type": "point", "shape": "square", "filled": true, "color": "#0000ff", "size": 180},
       "encoding": {"x": {"field": "conc", "type": "quantitative"}, "y": {"field": "time", "type": "quantitative"}}},
      {"data": {"name": "f8c"}, "transform": [{"filter": "datum.series == 'GaN Rec'"}], "mark": {"type": "point", "shape": "square", "filled": true, "fill": "#ffffff", "stroke": "#0000ff", "size": 170, "strokeWidth": 2.2},
       "encoding": {"x": {"field": "conc", "type": "quantitative"}, "y": {"field": "time", "type": "quantitative"}}},
      {"data": {"name": "f8c"}, "transform": [{"filter": "datum.series == 'GaN-Ga2O3 Res'"}], "mark": {"type": "point", "shape": "circle", "filled": true, "color": "#ff0000", "size": 200},
       "encoding": {"x": {"field": "conc", "type": "quantitative"}, "y": {"field": "time", "type": "quantitative"}}},
      {"data": {"name": "f8c"}, "transform": [{"filter": "datum.series == 'GaN-Ga2O3 Rec'"}], "mark": {"type": "point", "shape": "circle", "filled": true, "fill": "#ffffff", "stroke": "#ff0000", "size": 190, "strokeWidth": 2.2},
       "encoding": {"x": {"field": "conc", "type": "quantitative"}, "y": {"field": "time", "type": "quantitative"}}},
      {"data": {"name": "f8c"}, "transform": [{"filter": "datum.series == 'GaN Rec'"}], "mark": {"type": "point", "shape": "circle", "filled": true, "color": "#0000ff", "size": 5},
       "encoding": {"x": {"field": "conc", "type": "quantitative"}, "y": {"field": "time", "type": "quantitative"}}},
      {"data": {"name": "f8c"}, "transform": [{"filter": "datum.series == 'GaN-Ga2O3 Rec'"}], "mark": {"type": "point", "shape": "circle", "filled": true, "color": "#ff0000", "size": 5},
       "encoding": {"x": {"field": "conc", "type": "quantitative"}, "y": {"field": "time", "type": "quantitative"}}},
      {"mark": {"type": "text", "text": "-50", "fontSize": 12, "align": "right", "baseline": "middle", "dx": -9}, "encoding": {"x": {"datum": 0.3}, "y": {"datum": -50}}},
      {"mark": {"type": "text", "text": "0", "fontSize": 12, "align": "right", "baseline": "middle", "dx": -9}, "encoding": {"x": {"datum": 0.3}, "y": {"datum": 0}}},
      {"mark": {"type": "text", "text": "50", "fontSize": 12, "align": "right", "baseline": "middle", "dx": -9}, "encoding": {"x": {"datum": 0.3}, "y": {"datum": 50}}},
      {"mark": {"type": "text", "text": "100", "fontSize": 12, "align": "right", "baseline": "middle", "dx": -9}, "encoding": {"x": {"datum": 0.3}, "y": {"datum": 100}}},
      {"mark": {"type": "text", "text": "150", "fontSize": 12, "align": "right", "baseline": "middle", "dx": -9}, "encoding": {"x": {"datum": 0.3}, "y": {"datum": 150}}},
      {"mark": {"type": "text", "text": "200", "fontSize": 12, "align": "right", "baseline": "middle", "dx": -9}, "encoding": {"x": {"datum": 0.3}, "y": {"datum": 200}}},
      {"mark": {"type": "text", "text": "350", "fontSize": 12, "align": "right", "baseline": "middle", "dx": -9}, "encoding": {"x": {"datum": 0.3}, "y": {"datum": 350}}},
      {"mark": {"type": "text", "text": "400", "fontSize": 12, "align": "right", "baseline": "middle", "dx": -9}, "encoding": {"x": {"datum": 0.3}, "y": {"datum": 400}}},
      {"mark": {"type": "text", "text": "450", "fontSize": 12, "align": "right", "baseline": "middle", "dx": -9}, "encoding": {"x": {"datum": 0.3}, "y": {"datum": 450}}},
      {"mark": {"type": "text", "text": "500", "fontSize": 12, "align": "right", "baseline": "middle", "dx": -9}, "encoding": {"x": {"datum": 0.3}, "y": {"datum": 500}}},
      {"mark": {"type": "text", "text": "(c)", "fontSize": 24, "align": "left", "baseline": "middle"}, "encoding": {"x": {"datum": 0.327}, "y": {"datum": 477}}},
      {"mark": {"type": "text", "text": "//", "fontSize": 15, "align": "center", "baseline": "middle"}, "encoding": {"x": {"datum": 0.3}, "y": {"datum": 290}}},
      {"mark": {"type": "text", "text": "//", "fontSize": 15, "align": "center", "baseline": "middle"}, "encoding": {"x": {"datum": 15}, "y": {"datum": 290}}},
      {"mark": {"type": "rule", "color": "#0000ff", "strokeWidth": 1.5}, "encoding": {"x": {"datum": 0.327}, "x2": {"datum": 0.4745}, "y": {"datum": 105}}},
      {"mark": {"type": "point", "shape": "square", "filled": true, "color": "#0000ff", "size": 150}, "encoding": {"x": {"datum": 0.3937}, "y": {"datum": 105}}},
      {"mark": {"type": "text", "text": "Res. time", "fontSize": 15, "color": "#0000ff", "align": "left", "baseline": "middle"}, "encoding": {"x": {"datum": 0.5477}, "y": {"datum": 105}}},
      {"mark": {"type": "rule", "color": "#0000ff", "strokeWidth": 1.5}, "encoding": {"x": {"datum": 0.327}, "x2": {"datum": 0.4745}, "y": {"datum": 61}}},
      {"mark": {"type": "point", "shape": "square", "filled": true, "fill": "#ffffff", "stroke": "#0000ff", "size": 140, "strokeWidth": 2}, "encoding": {"x": {"datum": 0.3937}, "y": {"datum": 61}}},
      {"mark": {"type": "point", "shape": "circle", "filled": true, "color": "#0000ff", "size": 5}, "encoding": {"x": {"datum": 0.3937}, "y": {"datum": 61}}},
      {"mark": {"type": "text", "text": "Rec. time", "fontSize": 15, "color": "#0000ff", "align": "left", "baseline": "middle"}, "encoding": {"x": {"datum": 0.5477}, "y": {"datum": 61}}},
      {"mark": {"type": "rule", "color": "#ff0000", "strokeWidth": 1.5}, "encoding": {"x": {"datum": 0.327}, "x2": {"datum": 0.4745}, "y": {"datum": 18}}},
      {"mark": {"type": "point", "shape": "circle", "filled": true, "color": "#ff0000", "size": 170}, "encoding": {"x": {"datum": 0.3937}, "y": {"datum": 18}}},
      {"mark": {"type": "text", "text": "Res. time", "fontSize": 15, "color": "#ff0000", "align": "left", "baseline": "middle"}, "encoding": {"x": {"datum": 0.5477}, "y": {"datum": 18}}},
      {"mark": {"type": "rule", "color": "#ff0000", "strokeWidth": 1.5}, "encoding": {"x": {"datum": 0.327}, "x2": {"datum": 0.4745}, "y": {"datum": -25}}},
      {"mark": {"type": "point", "shape": "circle", "filled": true, "fill": "#ffffff", "stroke": "#ff0000", "size": 160, "strokeWidth": 2}, "encoding": {"x": {"datum": 0.3937}, "y": {"datum": -25}}},
      {"mark": {"type": "point", "shape": "circle", "filled": true, "color": "#ff0000", "size": 5}, "encoding": {"x": {"datum": 0.3937}, "y": {"datum": -25}}},
      {"mark": {"type": "text", "text": "Rec. time", "fontSize": 15, "color": "#ff0000", "align": "left", "baseline": "middle"}, "encoding": {"x": {"datum": 0.5477}, "y": {"datum": -25}}}
    ]
  },
  {
    "width": 286, "height": 230, "data": {"values": [{}]},
    "layer": [
      {"data": {"name": "exp8d"}, "mark": {"type": "rect", "color": "#efefef"},
       "encoding": {"x": {"field": "on", "type": "quantitative", "scale": {"domain": [-257, 5257], "nice": false, "zero": false}, "axis": {"values": [0, 500, 1000, 1500, 2000, 2500, 3000, 3500, 4000, 4500, 5000], "format": "d", "labelOverlap": false, "labelExpr": "datum.value % 1000 == 0 ? datum.label : ''", "tickDash": {"condition": {"test": "datum.value % 1000 != 0", "value": [3, 30]}, "value": []}, "title": "Time (s)"}}, "x2": {"field": "off"}}},
      {"data": {"name": "f8d_gan"}, "mark": {"type": "line", "color": "#0000ff", "strokeWidth": 6},
       "encoding": {"x": {"field": "time", "type": "quantitative"}, "y": {"field": "response", "type": "quantitative", "scale": {"domain": [-0.5, 12], "nice": false, "zero": false}, "axis": {"values": [0, 1, 2, 3, 4, 5, 6, 7, 8, 9, 10, 11, 12], "labels": false, "tickDash": {"condition": {"test": "datum.value % 2 != 0", "value": [3, 30]}, "value": []}, "title": "Sensor response (Rg/Ra)", "titlePadding": 21}}}},
      {"data": {"name": "f8d_gan"}, "mark": {"type": "point", "shape": "square", "filled": false, "color": "#0000ff", "size": 30, "strokeWidth": 1},
       "encoding": {"x": {"field": "time", "type": "quantitative"}, "y": {"field": "response", "type": "quantitative"}}},
      {"data": {"name": "f8d_gao"}, "mark": {"type": "line", "color": "#ff0000", "strokeWidth": 5},
       "encoding": {"x": {"field": "time", "type": "quantitative"}, "y": {"field": "response", "type": "quantitative"}}},
      {"data": {"name": "f8d_gao"}, "mark": {"type": "point", "shape": "square", "filled": false, "color": "#ff0000", "size": 30, "strokeWidth": 1},
       "encoding": {"x": {"field": "time", "type": "quantitative"}, "y": {"field": "response", "type": "quantitative"}}},
      {"mark": {"type": "text", "text": "0", "fontSize": 12, "align": "right", "baseline": "middle", "dx": -9}, "encoding": {"x": {"datum": -257}, "y": {"datum": 0}}},
      {"mark": {"type": "text", "text": "2", "fontSize": 12, "align": "right", "baseline": "middle", "dx": -9}, "encoding": {"x": {"datum": -257}, "y": {"datum": 2}}},
      {"mark": {"type": "text", "text": "4", "fontSize": 12, "align": "right", "baseline": "middle", "dx": -9}, "encoding": {"x": {"datum": -257}, "y": {"datum": 4}}},
      {"mark": {"type": "text", "text": "6", "fontSize": 12, "align": "right", "baseline": "middle", "dx": -9}, "encoding": {"x": {"datum": -257}, "y": {"datum": 6}}},
      {"mark": {"type": "text", "text": "8", "fontSize": 12, "align": "right", "baseline": "middle", "dx": -9}, "encoding": {"x": {"datum": -257}, "y": {"datum": 8}}},
      {"mark": {"type": "text", "text": "10", "fontSize": 12, "align": "right", "baseline": "middle", "dx": -9}, "encoding": {"x": {"datum": -257}, "y": {"datum": 10}}},
      {"mark": {"type": "text", "text": "12", "fontSize": 12, "align": "right", "baseline": "middle", "dx": -9}, "encoding": {"x": {"datum": -257}, "y": {"datum": 12}}},
      {"mark": {"type": "text", "text": "(d)", "fontSize": 24, "align": "left", "baseline": "middle"}, "encoding": {"x": {"datum": -14}, "y": {"datum": 10.77}}},
      {"mark": {"type": "rule", "color": "#0000ff", "strokeWidth": 1.5}, "encoding": {"x": {"datum": 2616}, "x2": {"datum": 3148}, "y": {"datum": 10.82}}},
      {"mark": {"type": "point", "shape": "square", "filled": true, "fill": "#ffffff", "stroke": "#0000ff", "size": 80, "strokeWidth": 1.2}, "encoding": {"x": {"datum": 2882}, "y": {"datum": 10.82}}},
      {"mark": {"type": "text", "text": "GaN", "fontSize": 17, "color": "#0000ff", "align": "left", "baseline": "middle"}, "encoding": {"x": {"datum": 3362}, "y": {"datum": 10.82}}},
      {"mark": {"type": "rule", "color": "#ff0000", "strokeWidth": 1.5}, "encoding": {"x": {"datum": 2616}, "x2": {"datum": 3148}, "y": {"datum": 9.66}}},
      {"mark": {"type": "point", "shape": "square", "filled": true, "fill": "#ffffff", "stroke": "#ff0000", "size": 80, "strokeWidth": 1.2}, "encoding": {"x": {"datum": 2882}, "y": {"datum": 9.66}}},
      {"mark": {"type": "text", "text": "GaN-Ga₂O₃", "fontSize": 17, "color": "#ff0000", "align": "left", "baseline": "middle"}, "encoding": {"x": {"datum": 3362}, "y": {"datum": 9.66}}},
      {"mark": {"type": "text", "text": "@ 300 °C, for NO₂", "fontSize": 16, "fontWeight": "bold", "color": "#0000ff", "align": "left", "baseline": "middle"}, "encoding": {"x": {"datum": -118}, "y": {"datum": 0.3}}},
      {"mark": {"type": "text", "text": "@ 400 °C, for NO₂", "fontSize": 16, "fontWeight": "bold", "color": "#ff0000", "align": "left", "baseline": "middle"}, "encoding": {"x": {"datum": 2596}, "y": {"datum": 0.3}}}
    ]
  },
  {
    "width": 285, "height": 230, "data": {"values": [{}]},
    "layer": [
      {"data": {"name": "f8e"}, "transform": [{"filter": "datum.sensor == 'GaN'"}], "mark": {"type": "bar", "orient": "vertical", "filled": false, "color": "#0000ff", "strokeWidth": 2, "width": 22.8, "xOffset": -11.4},
       "encoding": {"x": {"field": "cycle", "type": "quantitative", "scale": {"domain": [0.5, 5.5], "nice": false, "zero": false}, "axis": {"values": [1, 2, 3, 4, 5], "format": "d", "labelOverlap": false, "title": "Number of cycles (times)"}},
                    "y": {"field": "response", "type": "quantitative", "scale": {"domain": [0, 12], "nice": false}, "axis": {"values": [0, 1, 2, 3, 4, 5, 6, 7, 8, 9, 10, 11, 12], "labels": false, "tickDash": {"condition": {"test": "datum.value % 2 != 0", "value": [3, 30]}, "value": []}, "title": "Sensor response (Rg/Ra)", "titlePadding": 21}}}},
      {"data": {"name": "f8e"}, "transform": [{"filter": "datum.sensor == 'GaN-Ga2O3'"}], "mark": {"type": "bar", "orient": "vertical", "filled": false, "color": "#ff0000", "strokeWidth": 2, "width": 22.8, "xOffset": 11.4},
       "encoding": {"x": {"field": "cycle", "type": "quantitative"}, "y": {"field": "response", "type": "quantitative"}}},
      {"mark": {"type": "rule", "color": "#ff0000", "strokeWidth": 2, "strokeDash": [2, 2]}, "encoding": {"y": {"datum": 8.47}}},
      {"mark": {"type": "rule", "color": "#0000ff", "strokeWidth": 2, "strokeDash": [2, 2]}, "encoding": {"y": {"datum": 2.88}}},
      {"mark": {"type": "text", "text": "0", "fontSize": 12, "align": "right", "baseline": "middle", "dx": -9}, "encoding": {"x": {"datum": 0.5}, "y": {"datum": 0}}},
      {"mark": {"type": "text", "text": "2", "fontSize": 12, "align": "right", "baseline": "middle", "dx": -9}, "encoding": {"x": {"datum": 0.5}, "y": {"datum": 2}}},
      {"mark": {"type": "text", "text": "4", "fontSize": 12, "align": "right", "baseline": "middle", "dx": -9}, "encoding": {"x": {"datum": 0.5}, "y": {"datum": 4}}},
      {"mark": {"type": "text", "text": "6", "fontSize": 12, "align": "right", "baseline": "middle", "dx": -9}, "encoding": {"x": {"datum": 0.5}, "y": {"datum": 6}}},
      {"mark": {"type": "text", "text": "8", "fontSize": 12, "align": "right", "baseline": "middle", "dx": -9}, "encoding": {"x": {"datum": 0.5}, "y": {"datum": 8}}},
      {"mark": {"type": "text", "text": "10", "fontSize": 12, "align": "right", "baseline": "middle", "dx": -9}, "encoding": {"x": {"datum": 0.5}, "y": {"datum": 10}}},
      {"mark": {"type": "text", "text": "12", "fontSize": 12, "align": "right", "baseline": "middle", "dx": -9}, "encoding": {"x": {"datum": 0.5}, "y": {"datum": 12}}},
      {"mark": {"type": "text", "text": "(e)", "fontSize": 24, "align": "left", "baseline": "middle"}, "encoding": {"x": {"datum": 0.723}, "y": {"datum": 10.7}}},
      {"mark": {"type": "text", "text": "Average: 8.47, ±1.07%", "fontSize": 16, "fontWeight": "bold", "color": "#ff0000", "align": "left", "baseline": "middle"}, "encoding": {"x": {"datum": 0.723}, "y": {"datum": 9.11}}},
      {"mark": {"type": "text", "text": "Average: 2.88, ±0.7%", "fontSize": 16, "fontWeight": "bold", "color": "#0000ff", "align": "left", "baseline": "middle"}, "encoding": {"x": {"datum": 0.723}, "y": {"datum": 3.57}}},
      {"mark": {"type": "rect", "filled": false, "color": "#0000ff", "strokeWidth": 2}, "encoding": {"x": {"datum": 3.174}, "x2": {"datum": 3.665}, "y": {"datum": 10.9}, "y2": {"datum": 11.6}}},
      {"mark": {"type": "text", "text": "GaN", "fontSize": 17, "color": "#0000ff", "align": "left", "baseline": "middle"}, "encoding": {"x": {"datum": 3.85}, "y": {"datum": 11.25}}},
      {"mark": {"type": "rect", "filled": false, "color": "#ff0000", "strokeWidth": 2}, "encoding": {"x": {"datum": 3.174}, "x2": {"datum": 3.665}, "y": {"datum": 9.72}, "y2": {"datum": 10.43}}},
      {"mark": {"type": "text", "text": "GaN-Ga₂O₃", "fontSize": 17, "color": "#ff0000", "align": "left", "baseline": "middle"}, "encoding": {"x": {"datum": 3.85}, "y": {"datum": 10.07}}}
    ]
  },
  {
    "width": 283, "height": 230, "data": {"values": [{}]},
    "layer": [
      {"data": {"name": "f8f"}, "transform": [{"filter": "datum.sensor == 'GaN'"}], "mark": {"type": "line", "color": "#0000ff", "strokeWidth": 1.5},
       "encoding": {"x": {"field": "rh", "type": "quantitative", "scale": {"domain": [25.2, 84.8], "nice": false, "zero": false}, "axis": {"values": [30, 35, 40, 45, 50, 55, 60, 65, 70, 75, 80], "labelOverlap": false, "labelExpr": "datum.value % 10 == 0 ? datum.label : ''", "tickDash": {"condition": {"test": "datum.value % 10 != 0", "value": [3, 30]}, "value": []}, "title": "Relative humidity (%)"}},
                    "y": {"field": "response", "type": "quantitative", "scale": {"domain": [1, 4.07, 6.9, 10.5], "range": [230, 124.8, 124.8, 0], "nice": false, "zero": false}, "axis": {"values": [1, 1.5, 2, 2.5, 3, 3.5, 4, 7, 7.5, 8, 8.5, 9, 9.5, 10], "labels": false, "tickDash": {"condition": {"test": "datum.value % 1 != 0", "value": [3, 30]}, "value": []}, "title": "Sensor response (Rg/Ra)", "titlePadding": 21}}}},
      {"data": {"name": "f8f"}, "transform": [{"filter": "datum.sensor == 'GaN-Ga2O3'"}], "mark": {"type": "line", "color": "#ff0000", "strokeWidth": 1.5},
       "encoding": {"x": {"field": "rh", "type": "quantitative"}, "y": {"field": "response", "type": "quantitative"}}},
      {"data": {"name": "f8f"}, "transform": [{"filter": "datum.sensor == 'GaN'"}], "mark": {"type": "point", "shape": "circle", "filled": true, "size": 230, "stroke": null, "fill": {"gradient": "radial", "x1": 0.38, "y1": 0.32, "r1": 0.02, "x2": 0.45, "y2": 0.45, "r2": 0.6, "stops": [{"offset": 0, "color": "#eeeeff"}, {"offset": 0.35, "color": "#2a2aff"}, {"offset": 1, "color": "#0000a8"}]}},
       "encoding": {"x": {"field": "rh", "type": "quantitative"}, "y": {"field": "response", "type": "quantitative"}}},
      {"data": {"name": "f8f"}, "transform": [{"filter": "datum.sensor == 'GaN-Ga2O3'"}], "mark": {"type": "point", "shape": "circle", "filled": true, "size": 230, "stroke": null, "fill": {"gradient": "radial", "x1": 0.38, "y1": 0.32, "r1": 0.02, "x2": 0.45, "y2": 0.45, "r2": 0.6, "stops": [{"offset": 0, "color": "#ffeeee"}, {"offset": 0.35, "color": "#ff2a2a"}, {"offset": 1, "color": "#b00000"}]}},
       "encoding": {"x": {"field": "rh", "type": "quantitative"}, "y": {"field": "response", "type": "quantitative"}}},
      {"mark": {"type": "text", "text": "1", "fontSize": 12, "align": "right", "baseline": "middle", "dx": -9}, "encoding": {"x": {"datum": 25.2}, "y": {"datum": 1}}},
      {"mark": {"type": "text", "text": "2", "fontSize": 12, "align": "right", "baseline": "middle", "dx": -9}, "encoding": {"x": {"datum": 25.2}, "y": {"datum": 2}}},
      {"mark": {"type": "text", "text": "3", "fontSize": 12, "align": "right", "baseline": "middle", "dx": -9}, "encoding": {"x": {"datum": 25.2}, "y": {"datum": 3}}},
      {"mark": {"type": "text", "text": "7", "fontSize": 12, "align": "right", "baseline": "middle", "dx": -9}, "encoding": {"x": {"datum": 25.2}, "y": {"datum": 7}}},
      {"mark": {"type": "text", "text": "8", "fontSize": 12, "align": "right", "baseline": "middle", "dx": -9}, "encoding": {"x": {"datum": 25.2}, "y": {"datum": 8}}},
      {"mark": {"type": "text", "text": "9", "fontSize": 12, "align": "right", "baseline": "middle", "dx": -9}, "encoding": {"x": {"datum": 25.2}, "y": {"datum": 9}}},
      {"mark": {"type": "text", "text": "10", "fontSize": 12, "align": "right", "baseline": "middle", "dx": -9}, "encoding": {"x": {"datum": 25.2}, "y": {"datum": 10}}},
      {"mark": {"type": "text", "text": "(f)", "fontSize": 24, "align": "left", "baseline": "middle"}, "encoding": {"x": {"datum": 27.6}, "y": {"datum": 9.75}}},
      {"mark": {"type": "text", "text": "//", "fontSize": 15, "align": "center", "baseline": "middle"}, "encoding": {"x": {"datum": 25.2}, "y": {"datum": 5.5}}},
      {"mark": {"type": "text", "text": "//", "fontSize": 15, "align": "center", "baseline": "middle"}, "encoding": {"x": {"datum": 84.8}, "y": {"datum": 5.5}}},
      {"mark": {"type": "rule", "color": "#0000ff", "strokeWidth": 1.5}, "encoding": {"x": {"datum": 55.8}, "x2": {"datum": 61.3}, "y": {"datum": 9.9}}},
      {"mark": {"type": "point", "shape": "circle", "filled": true, "size": 170, "stroke": null, "fill": {"gradient": "radial", "x1": 0.38, "y1": 0.32, "r1": 0.02, "x2": 0.45, "y2": 0.45, "r2": 0.6, "stops": [{"offset": 0, "color": "#eeeeff"}, {"offset": 0.35, "color": "#2a2aff"}, {"offset": 1, "color": "#0000a8"}]}}, "encoding": {"x": {"datum": 58.7}, "y": {"datum": 9.9}}},
      {"mark": {"type": "text", "text": "GaN", "fontSize": 17, "color": "#0000ff", "align": "left", "baseline": "middle"}, "encoding": {"x": {"datum": 63.8}, "y": {"datum": 9.9}}},
      {"mark": {"type": "rule", "color": "#ff0000", "strokeWidth": 1.5}, "encoding": {"x": {"datum": 55.8}, "x2": {"datum": 61.3}, "y": {"datum": 9.25}}},
      {"mark": {"type": "point", "shape": "circle", "filled": true, "size": 170, "stroke": null, "fill": {"gradient": "radial", "x1": 0.38, "y1": 0.32, "r1": 0.02, "x2": 0.45, "y2": 0.45, "r2": 0.6, "stops": [{"offset": 0, "color": "#ffeeee"}, {"offset": 0.35, "color": "#ff2a2a"}, {"offset": 1, "color": "#b00000"}]}}, "encoding": {"x": {"datum": 58.7}, "y": {"datum": 9.25}}},
      {"mark": {"type": "text", "text": "GaN-Ga₂O₃", "fontSize": 17, "color": "#ff0000", "align": "left", "baseline": "middle"}, "encoding": {"x": {"datum": 63.8}, "y": {"datum": 9.25}}},
      {"mark": {"type": "text", "text": "-12.76%", "fontSize": 16, "fontWeight": "bold", "color": "#ff0000", "align": "center", "baseline": "middle"}, "encoding": {"x": {"datum": 74.6}, "y": {"datum": 8.11}}},
      {"mark": {"type": "text", "text": "@ 400 °C, for 10 ppm NO₂", "fontSize": 16, "fontWeight": "bold", "color": "#ff0000", "align": "left", "baseline": "middle"}, "encoding": {"x": {"datum": 29.4}, "y": {"datum": 7.36}}},
      {"mark": {"type": "text", "text": "Adjusted at 25 °C", "fontSize": 16, "fontWeight": "bold", "color": "#000000", "align": "center", "baseline": "middle"}, "encoding": {"x": {"datum": 50.1}, "y": {"datum": 3.6}}},
      {"mark": {"type": "text", "text": "-14.74%", "fontSize": 16, "fontWeight": "bold", "color": "#0000ff", "align": "center", "baseline": "middle"}, "encoding": {"x": {"datum": 75.8}, "y": {"datum": 3.13}}},
      {"mark": {"type": "text", "text": "@ 300 °C, for 10 ppm NO₂", "fontSize": 16, "fontWeight": "bold", "color": "#0000ff", "align": "left", "baseline": "middle"}, "encoding": {"x": {"datum": 29.0}, "y": {"datum": 2.06}}}
    ]
  },
  {
    "width": 10, "height": 429, "view": {"stroke": null},
    "data": {"name": "textrow"},
    "encoding": {
      "x": {"field": "col", "type": "nominal", "scale": {"type": "point", "domain": ["left", "right"], "range": [-64, 500], "padding": 0}, "axis": null},
      "text": {"field": "text"}
    },
    "layer": [
      {"transform": [{"filter": "datum.block == 'cap' && datum.part == 'label'"}], "mark": {"type": "text", "align": "left", "baseline": "middle", "font": "DejaVu Serif", "fontWeight": "bold", "fontSize": 12.9, "color": "#111111"},
       "encoding": {"y": {"field": "line", "type": "quantitative", "scale": {"domain": [1, 4], "range": [4, 64], "nice": false, "zero": false}, "axis": null}}},
      {"transform": [{"filter": "datum.block == 'cap' && datum.part == 'body' && datum.line == 1"}], "mark": {"type": "text", "align": "left", "baseline": "middle", "font": "DejaVu Serif", "fontSize": 12.9, "dx": 53, "color": "#111111"},
       "encoding": {"y": {"field": "line", "type": "quantitative", "scale": {"domain": [1, 4], "range": [4, 64], "nice": false, "zero": false}, "axis": null}}},
      {"transform": [{"filter": "datum.block == 'cap' && datum.part == 'body' && datum.line > 1"}], "mark": {"type": "text", "align": "left", "baseline": "middle", "font": "DejaVu Serif", "fontSize": 12.9, "color": "#111111"},
       "encoding": {"y": {"field": "line", "type": "quantitative", "scale": {"domain": [1, 4], "range": [4, 64], "nice": false, "zero": false}, "axis": null}}},
      {"transform": [{"filter": "datum.block == 'body' && datum.part == 'body'"}], "mark": {"type": "text", "align": "left", "baseline": "middle", "font": "DejaVu Serif", "fontSize": 14.5, "color": "#111111"},
       "encoding": {"y": {"field": "line", "type": "quantitative", "scale": {"domain": [1, 15], "range": [109, 415], "nice": false, "zero": false}, "axis": null}}},
      {"transform": [{"filter": "datum.block == 'body' && datum.part == 'indent'"}], "mark": {"type": "text", "align": "left", "baseline": "middle", "font": "DejaVu Serif", "fontSize": 14.5, "dx": 25, "color": "#111111"},
       "encoding": {"y": {"field": "line", "type": "quantitative", "scale": {"domain": [1, 15], "range": [109, 415], "nice": false, "zero": false}, "axis": null}}}
    ],
    "resolve": {"scale": {"y": "independent"}}
  },
  {"width": 10, "height": 10, "view": {"stroke": null}, "data": {"values": [{}]}, "mark": {"type": "text", "text": " "}},
  {"width": 10, "height": 10, "view": {"stroke": null}, "data": {"values": [{}]}, "mark": {"type": "text", "text": " "}},
  {
    "width": 286, "height": 229, "data": {"values": [{}]},
    "layer": [
      {"data": {"name": "f9a_fresh"}, "mark": {"type": "line", "color": "#111111", "strokeWidth": 5},
       "encoding": {"x": {"field": "time", "type": "quantitative", "scale": {"domain": [-317, 3210], "nice": false, "zero": false}, "axis": {"values": [0, 250, 500, 750, 1000, 1250, 1500, 1750, 2000, 2250, 2500, 2750, 3000], "format": "d", "labelOverlap": false, "labelExpr": "datum.value % 500 == 0 ? datum.label : ''", "tickDash": {"condition": {"test": "datum.value % 500 != 0", "value": [3, 30]}, "value": []}, "title": "Time (s)"}},
                    "y": {"field": "response", "type": "quantitative", "scale": {"domain": [0.74, 3.5], "nice": false, "zero": false}, "axis": {"values": [1.0, 1.25, 1.5, 1.75, 2.0, 2.25, 2.5, 2.75, 3.0, 3.25, 3.5], "format": ".1f", "labelOverlap": false, "labelExpr": "(datum.value * 2) % 1 == 0 ? datum.label : ''", "tickDash": {"condition": {"test": "(datum.value * 2) % 1 != 0", "value": [3, 30]}, "value": []}, "title": "Sensor response (Rg/Ra)"}}}},
      {"data": {"name": "f9a_fresh"}, "mark": {"type": "point", "shape": "circle", "filled": true, "color": "#333333", "size": 22},
       "encoding": {"x": {"field": "time", "type": "quantitative"}, "y": {"field": "response", "type": "quantitative"}}},
      {"data": {"name": "f9a_after"}, "mark": {"type": "line", "color": "#0000ff", "strokeWidth": 1.8},
       "encoding": {"x": {"field": "time", "type": "quantitative"}, "y": {"field": "response", "type": "quantitative"}}},
      {"mark": {"type": "text", "text": "@ 300 °C, for NO₂", "fontSize": 16, "fontWeight": "bold", "color": "#0000ff", "align": "right", "baseline": "middle"}, "encoding": {"x": {"datum": 3123}, "y": {"datum": 3.655}}},
      {"mark": {"type": "text", "text": "(a)", "fontSize": 24, "align": "left", "baseline": "middle"}, "encoding": {"x": {"datum": -91}, "y": {"datum": 3.196}}},
      {"mark": {"type": "text", "text": "10 ppm", "fontSize": 16, "fontWeight": "bold", "align": "center", "baseline": "middle"}, "encoding": {"x": {"datum": 746}, "y": {"datum": 3.07}}},
      {"mark": {"type": "text", "text": "5 ppm", "fontSize": 16, "fontWeight": "bold", "align": "center", "baseline": "middle"}, "encoding": {"x": {"datum": 1447}, "y": {"datum": 2.385}}},
      {"mark": {"type": "text", "text": "1 ppm", "fontSize": 16, "fontWeight": "bold", "align": "center", "baseline": "middle"}, "encoding": {"x": {"datum": 2445}, "y": {"datum": 1.967}}},
      {"mark": {"type": "point", "shape": "circle", "filled": true, "size": 110, "stroke": null, "fill": {"gradient": "radial", "x1": 0.38, "y1": 0.32, "r1": 0.02, "x2": 0.45, "y2": 0.45, "r2": 0.6, "stops": [{"offset": 0, "color": "#dddddd"}, {"offset": 0.35, "color": "#333333"}, {"offset": 1, "color": "#000000"}]}}, "encoding": {"x": {"datum": 1459}, "y": {"datum": 3.273}}},
      {"mark": {"type": "text", "text": "Fresh sample", "fontSize": 17, "color": "#000000", "align": "left", "baseline": "middle"}, "encoding": {"x": {"datum": 1791}, "y": {"datum": 3.273}}},
      {"mark": {"type": "rule", "color": "#0000ff", "strokeWidth": 3}, "encoding": {"x": {"datum": 1311}, "x2": {"datum": 1640}, "y": {"datum": 3.0}}},
      {"mark": {"type": "text", "text": "After 3 months", "fontSize": 17, "color": "#0000ff", "align": "left", "baseline": "middle"}, "encoding": {"x": {"datum": 1791}, "y": {"datum": 3.0}}}
    ]
  },
  {
    "width": 284, "height": 229, "data": {"values": [{}]},
    "layer": [
      {"data": {"name": "f9b_fresh"}, "mark": {"type": "line", "color": "#111111", "strokeWidth": 5},
       "encoding": {"x": {"field": "time", "type": "quantitative", "scale": {"domain": [-254, 3238], "nice": false, "zero": false}, "axis": {"values": [0, 250, 500, 750, 1000, 1250, 1500, 1750, 2000, 2250, 2500, 2750, 3000], "format": "d", "labelOverlap": false, "labelExpr": "datum.value % 500 == 0 ? datum.label : ''", "tickDash": {"condition": {"test": "datum.value % 500 != 0", "value": [3, 30]}, "value": []}, "title": "Time (s)"}},
                    "y": {"field": "response", "type": "quantitative", "scale": {"domain": [0, 11], "nice": false, "zero": false}, "axis": {"values": [0, 1, 2, 3, 4, 5, 6, 7, 8, 9, 10, 11], "labelOverlap": false, "labelExpr": "datum.value % 2 == 0 ? datum.label : ''", "tickDash": {"condition": {"test": "datum.value % 2 != 0", "value": [3, 30]}, "value": []}, "title": "Sensor response (Rg/Ra)"}}}},
      {"data": {"name": "f9b_fresh"}, "mark": {"type": "point", "shape": "circle", "filled": true, "color": "#333333", "size": 22},
       "encoding": {"x": {"field": "time", "type": "quantitative"}, "y": {"field": "response", "type": "quantitative"}}},
      {"data": {"name": "f9b_after"}, "mark": {"type": "line", "color": "#ff0000", "strokeWidth": 1.8},
       "encoding": {"x": {"field": "time", "type": "quantitative"}, "y": {"field": "response", "type": "quantitative"}}},
      {"mark": {"type": "text", "text": "@ 400 °C, for NO₂", "fontSize": 16, "fontWeight": "bold", "color": "#ff0000", "align": "right", "baseline": "middle"}, "encoding": {"x": {"datum": 3166}, "y": {"datum": 11.62}}},
      {"mark": {"type": "text", "text": "(b)", "fontSize": 24, "align": "left", "baseline": "middle"}, "encoding": {"x": {"datum": -114}, "y": {"datum": 9.82}}},
      {"mark": {"type": "text", "text": "10 ppm", "fontSize": 16, "fontWeight": "bold", "align": "center", "baseline": "middle"}, "encoding": {"x": {"datum": 404}, "y": {"datum": 0.85}}},
      {"mark": {"type": "text", "text": "5 ppm", "fontSize": 16, "fontWeight": "bold", "align": "center", "baseline": "middle"}, "encoding": {"x": {"datum": 1335}, "y": {"datum": 6.87}}},
      {"mark": {"type": "text", "text": "1 ppm", "fontSize": 16, "fontWeight": "bold", "align": "center", "baseline": "middle"}, "encoding": {"x": {"datum": 2346}, "y": {"datum": 4.17}}},
      {"mark": {"type": "point", "shape": "circle", "filled": true, "size": 110, "stroke": null, "fill": {"gradient": "radial", "x1": 0.38, "y1": 0.32, "r1": 0.02, "x2": 0.45, "y2": 0.45, "r2": 0.6, "stops": [{"offset": 0, "color": "#dddddd"}, {"offset": 0.35, "color": "#333333"}, {"offset": 1, "color": "#000000"}]}}, "encoding": {"x": {"datum": 1501}, "y": {"datum": 10.1}}},
      {"mark": {"type": "text", "text": "Fresh sample", "fontSize": 17, "color": "#000000", "align": "left", "baseline": "middle"}, "encoding": {"x": {"datum": 1792}, "y": {"datum": 10.1}}},
      {"mark": {"type": "rule", "color": "#ff0000", "strokeWidth": 3}, "encoding": {"x": {"datum": 1303}, "x2": {"datum": 1634}, "y": {"datum": 9.05}}},
      {"mark": {"type": "text", "text": "After 3 months", "fontSize": 17, "color": "#ff0000", "align": "left", "baseline": "middle"}, "encoding": {"x": {"datum": 1792}, "y": {"datum": 9.05}}}
    ]
  },
  {
    "width": 284, "height": 229, "data": {"values": [{}]},
    "layer": [
      {
        "layer": [
          {"mark": {"type": "rect", "color": "#e1e9f5"}, "encoding": {"x": {"datum": 0, "type": "quantitative", "scale": {"domain": [0, 6], "nice": false, "zero": false}, "axis": null}, "x2": {"datum": 3}, "y": {"datum": 0, "type": "quantitative", "scale": {"domain": [0, 11], "nice": false, "zero": false}, "axis": {"values": [0, 1, 2, 3, 4, 5, 6, 7, 8, 9, 10], "labelOverlap": false, "labelExpr": "datum.value % 2 == 0 ? datum.label : ''", "tickDash": {"condition": {"test": "datum.value % 2 != 0", "value": [3, 30]}, "value": []}, "title": "Sensor response (Rg/Ra)"}}, "y2": {"datum": 11}}},
          {"mark": {"type": "rect", "color": "#fdeadc"}, "encoding": {"x": {"datum": 3}, "x2": {"datum": 6}, "y": {"datum": 0}, "y2": {"datum": 11}}},
          {"mark": {"type": "text", "text": "GaN", "fontSize": 19, "color": "#0000ff", "align": "center", "baseline": "middle"}, "encoding": {"x": {"datum": 1.525}, "y": {"datum": 11.72}}},
          {"mark": {"type": "text", "text": "GaN–Ga₂O₃", "fontSize": 19, "color": "#ff0000", "align": "center", "baseline": "middle"}, "encoding": {"x": {"datum": 4.48}, "y": {"datum": 11.72}}},
          {"mark": {"type": "rect", "color": "#808080"}, "encoding": {"x": {"datum": 2.72}, "x2": {"datum": 3.3}, "y": {"datum": 9.95}, "y2": {"datum": 10.6}}},
          {"mark": {"type": "text", "text": "Fresh sample", "fontSize": 17, "color": "#808080", "align": "left", "baseline": "middle"}, "encoding": {"x": {"datum": 3.52}, "y": {"datum": 10.28}}},
          {"mark": {"type": "rect", "color": "#ff00ff"}, "encoding": {"x": {"datum": 2.72}, "x2": {"datum": 3.3}, "y": {"datum": 8.9}, "y2": {"datum": 9.58}}},
          {"mark": {"type": "text", "text": "After 3 months", "fontSize": 17, "color": "#ff00ff", "align": "left", "baseline": "middle"}, "encoding": {"x": {"datum": 3.52}, "y": {"datum": 9.25}}},
          {"mark": {"type": "text", "text": "(c)", "fontSize": 24, "align": "left", "baseline": "middle"}, "encoding": {"x": {"datum": 0.245}, "y": {"datum": 9.87}}}
        ]
      },
      {"data": {"name": "f9c"}, "mark": {"type": "bar"},
       "encoding": {"x": {"field": "group", "type": "nominal", "sort": null, "scale": {"domain": ["GaN 10", "GaN 5", "GaN 1", "GaN–Ga₂O₃ 10", "GaN–Ga₂O₃ 5", "GaN–Ga₂O₃ 1"], "paddingInner": 0.2, "paddingOuter": 0.1}, "axis": {"orient": "bottom", "labelAngle": 0, "labelExpr": "split(datum.label, ' ')[1]", "labelFontSize": 13, "title": "Concentration (ppm)", "titleFontWeight": "bold", "titleFontSize": 17}},
                    "xOffset": {"field": "period", "type": "nominal", "scale": {"domain": ["Fresh sample", "After 3 months"]}},
                    "y": {"field": "response", "type": "quantitative"},
                    "color": {"field": "period", "type": "nominal", "scale": {"domain": ["Fresh sample", "After 3 months"], "range": ["#808080", "#ff00ff"]}, "legend": null}}}
    ],
    "resolve": {"scale": {"x": "independent"}, "axis": {"x": "independent"}}
  },
  {
    "width": 10, "height": 10, "view": {"stroke": null},
    "data": {"name": "cap9"},
    "encoding": {
      "x": {"field": "col", "type": "nominal", "scale": {"type": "point", "domain": ["left", "center"], "range": [-64, 483], "padding": 0}, "axis": null},
      "y": {"field": "line", "type": "quantitative", "scale": {"domain": [1, 2], "range": [6, 27], "nice": false, "zero": false}, "axis": null},
      "text": {"field": "text"}
    },
    "layer": [
      {"transform": [{"filter": "datum.part == 'label'"}], "mark": {"type": "text", "align": "left", "baseline": "middle", "font": "DejaVu Serif", "fontWeight": "bold", "fontSize": 12.9, "color": "#111111"}},
      {"transform": [{"filter": "datum.part == 'body' && datum.line == 1"}], "mark": {"type": "text", "align": "left", "baseline": "middle", "font": "DejaVu Serif", "fontSize": 12.9, "dx": 53, "color": "#111111"}},
      {"transform": [{"filter": "datum.part == 'body' && datum.line > 1"}], "mark": {"type": "text", "align": "left", "baseline": "middle", "font": "DejaVu Serif", "fontSize": 12.9, "color": "#111111"}},
      {"transform": [{"filter": "datum.part == 'page'"}], "mark": {"type": "text", "align": "center", "baseline": "middle", "font": "DejaVu Serif", "fontSize": 12.9, "color": "#111111"}}
    ]
  },
  {"width": 10, "height": 10, "view": {"stroke": null}, "data": {"values": [{}]}, "mark": {"type": "text", "text": " "}},
  {"width": 10, "height": 10, "view": {"stroke": null}, "data": {"values": [{}]}, "mark": {"type": "text", "text": " "}}
],
"columns": 3,
"spacing": {"row": 70, "column": 73},
"bounds": "flush",
"resolve": {"scale": {"color": "independent"}}
}
